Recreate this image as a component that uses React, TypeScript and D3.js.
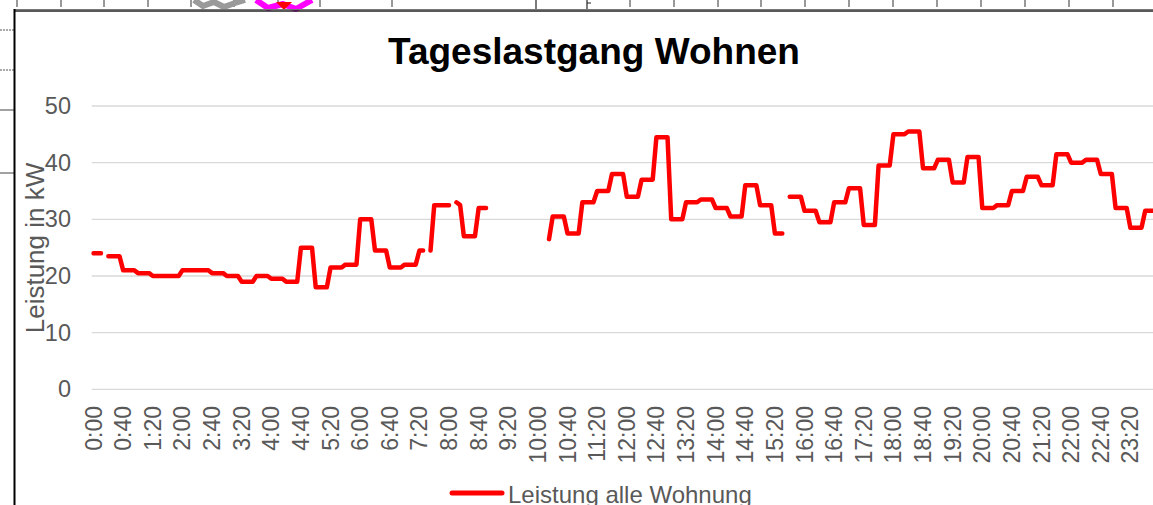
import React from "react";
import * as d3 from "d3";

// ---- data ----
const categories: string[] = d3.range(288).map(
  (i) => `${Math.floor(i / 12)}:${String((i % 12) * 5).padStart(2, "0")}`
);

const tickLabels: string[] = [
  "0:00", "0:40", "1:20", "2:00", "2:40", "3:20", "4:00", "4:40", "5:20",
  "6:00", "6:40", "7:20", "8:00", "8:40", "9:20", "10:00", "10:40", "11:20",
  "12:00", "12:40", "13:20", "14:00", "14:40", "15:20", "16:00", "16:40",
  "17:20", "18:00", "18:40", "19:20", "20:00", "20:40", "21:20", "22:00",
  "22:40", "23:20",
];

const yTicks: number[] = [0, 10, 20, 30, 40, 50];

const N = null;
// Leistung alle Wohnung (kW), 5-minute values
const leistung: (number | null)[] = [
  // 0:00 - 1:55
  24, 24, 24, N, 23.5, 23.5, 23.5, 23.5, 21, 21, 21, 21,
  20.5, 20.5, 20.5, 20.5, 20, 20, 20, 20, 20, 20, 20, 20,
  // 2:00 - 3:55
  21, 21, 21, 21, 21, 21, 21, 21, 20.5, 20.5, 20.5, 20.5,
  20, 20, 20, 20, 19, 19, 19, 19, 20, 20, 20, 20,
  // 4:00 - 5:55
  19.5, 19.5, 19.5, 19.5, 19, 19, 19, 19, 25, 25, 25, 25,
  18, 18, 18, 18, 21.5, 21.5, 21.5, 21.5, 22, 22, 22, 22,
  // 6:00 - 7:55
  30, 30, 30, 30, 24.5, 24.5, 24.5, 24.5, 21.5, 21.5, 21.5, 21.5,
  22, 22, 22, 22, 24.5, 24.5, N, 24.5, 32.5, 32.5, 32.5, 32.5,
  // 8:00 - 9:55
  32.5, N, 33, 32.5, 27, 27, 27, 27, 32, 32, 32, N,
  N, N, N, N, N, N, N, N, N, N, N, N,
  // 10:00 - 11:55
  N, N, N, 26.5, 30.5, 30.5, 30.5, 30.5, 27.5, 27.5, 27.5, 27.5,
  33, 33, 33, 33, 35, 35, 35, 35, 38, 38, 38, 38,
  // 12:00 - 13:55
  34, 34, 34, 34, 37, 37, 37, 37, 44.5, 44.5, 44.5, 44.5,
  30, 30, 30, 30, 33, 33, 33, 33, 33.5, 33.5, 33.5, 33.5,
  // 14:00 - 15:55
  32, 32, 32, 32, 30.5, 30.5, 30.5, 30.5, 36, 36, 36, 36,
  32.5, 32.5, 32.5, 32.5, 27.5, 27.5, 27.5, N, 34, 34, 34, 34,
  // 16:00 - 17:55
  31.5, 31.5, 31.5, 31.5, 29.5, 29.5, 29.5, 29.5, 33, 33, 33, 33,
  35.5, 35.5, 35.5, 35.5, 29, 29, 29, 29, 39.5, 39.5, 39.5, 39.5,
  // 18:00 - 19:55
  45, 45, 45, 45, 45.5, 45.5, 45.5, 45.5, 39, 39, 39, 39,
  40.5, 40.5, 40.5, 40.5, 36.5, 36.5, 36.5, 36.5, 41, 41, 41, 41,
  // 20:00 - 21:55
  32, 32, 32, 32, 32.5, 32.5, 32.5, 32.5, 35, 35, 35, 35,
  37.5, 37.5, 37.5, 37.5, 36, 36, 36, 36, 41.5, 41.5, 41.5, 41.5,
  // 22:00 - 23:55
  40, 40, 40, 40, 40.5, 40.5, 40.5, 40.5, 38, 38, 38, 38,
  32, 32, 32, 32, 28.5, 28.5, 28.5, 28.5, 31.5, 31.5, 31.5, 31.5,
];

const seriesName = "Leistung alle Wohnung";
const chartTitle = "Tageslastgang Wohnen";
const yTitle = "Leistung in kW";

// ---- decorations (screenshot remnants) ----
const topTicksA = [17, 61, 104, 148, 191, 234, 278, 320, 392];
const topTicksB = [630, 674, 718, 761, 805, 849, 893, 937, 981, 1025, 1069, 1113];

const FONT = "'Liberation Sans', Arial, Helvetica, sans-serif";
const W = 1153;
const H = 505;

export default function App() {
  const plotLeft = 91.7;
  const catW = 3.703;
  const x = d3
    .scaleBand<string>()
    .domain(categories)
    .range([plotLeft, plotLeft + categories.length * catW])
    .padding(0);
  const cx = (c: string) => (x(c) as number) + x.bandwidth() / 2;
  const y = d3.scaleLinear().domain([0, 50]).range([389.3, 106]);

  const line = d3
    .line<number | null>()
    .defined((v) => v != null)
    .x((_, i) => cx(categories[i]))
    .y((v) => y(v as number));

  return (
    <div style={{ position: "absolute", left: 0, top: 0 }}>
      <svg width={W} height={H} style={{ display: "block", background: "#fff" }} fontFamily={FONT}>
        {/* screenshot remnants on top */}
        {topTicksA.concat(topTicksB).map((t) => (
          <line key={"tt" + t} x1={t} x2={t} y1={0} y2={7} stroke="#333" strokeWidth={1} />
        ))}
        <line x1={536} x2={536} y1={0} y2={10} stroke="#222" strokeWidth={1.2} />
        <line x1={587} x2={587} y1={0} y2={10} stroke="#222" strokeWidth={1.2} />
        <line x1={587} x2={591} y1={3} y2={3} stroke="#222" strokeWidth={1} />
        <path d="M194,0 L203,6 L214,2 L224,7 L235,3 L245,0" fill="none" stroke="#9a9a9a" strokeWidth={6} strokeLinejoin="round" />
        <path d="M256,0 L268,8 L283,4 L296,9 L312,0" fill="none" stroke="#ff00ff" strokeWidth={6} strokeLinejoin="round" />
        <path d="M276,2 L292,2 L284,10 Z" fill="#ff0000" />
        <line x1={0} x2={14} y1={30} y2={30} stroke="#555" strokeWidth={1} strokeDasharray="2,1" />
        <line x1={0} x2={14} y1={70} y2={70} stroke="#555" strokeWidth={1} strokeDasharray="2,1" />
        <line x1={0} x2={14} y1={110} y2={110} stroke="#444" strokeWidth={1} />
        <line x1={0} x2={14} y1={173} y2={173} stroke="#444" strokeWidth={1} />
        {/* chart frame */}
        <line x1={14} x2={W} y1={9.5} y2={9.5} stroke="#777" strokeWidth={1} />
        <line x1={14} x2={W} y1={11} y2={11} stroke="#222" strokeWidth={1.5} />
        <line x1={14.5} x2={14.5} y1={9} y2={H} stroke="#000" strokeWidth={2} />

        {/* title */}
        <text x={594} y={64} textAnchor="middle" fontSize={37} fontWeight="bold" fill="#000">
          {chartTitle}
        </text>

        {/* gridlines */}
        {yTicks.map((t) => (
          <line key={"g" + t} x1={plotLeft} x2={W} y1={y(t)} y2={y(t)} stroke="#d9d9d9" strokeWidth={1.3} />
        ))}
        {/* y tick labels */}
        {yTicks.map((t) => (
          <text key={"yl" + t} x={71} y={y(t)} textAnchor="end" dominantBaseline="central" fontSize={23.5} fill="#595959">
            {t}
          </text>
        ))}
        {/* y title */}
        <text
          transform={`translate(35,248) rotate(-90)`}
          textAnchor="middle"
          dominantBaseline="central"
          fontSize={26}
          fill="#595959"
        >
          {yTitle}
        </text>
        {/* x tick labels */}
        {tickLabels.map((l) => (
          <text
            key={"xl" + l}
            transform={`translate(${cx(l)},406) rotate(-90)`}
            textAnchor="end"
            dominantBaseline="central"
            fontSize={23}
            fill="#595959"
          >
            {l}
          </text>
        ))}

        {/* series */}
        <path
          d={line(leistung) ?? ""}
          fill="none"
          stroke="#ff0000"
          strokeWidth={4.5}
          strokeLinejoin="round"
          strokeLinecap="round"
        />

        {/* legend */}
        <line x1={452} x2={502} y1={493} y2={493} stroke="#ff0000" strokeWidth={5} strokeLinecap="round" />
        <text x={508} y={502.5} fontSize={24} fill="#595959">
          {seriesName}
        </text>
      </svg>
    </div>
  );
}
